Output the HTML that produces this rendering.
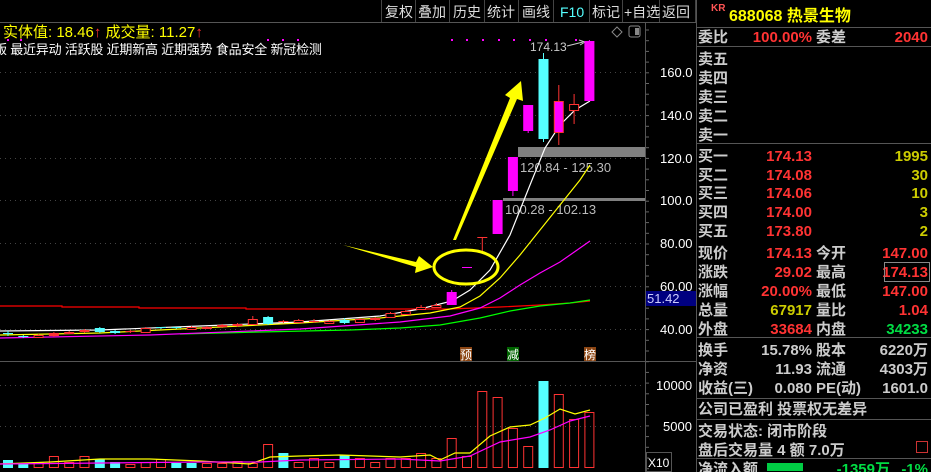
<!DOCTYPE html>
<html><head><meta charset="utf-8">
<style>
body{margin:0;background:#000;width:931px;height:472px;overflow:hidden;font-family:"Liberation Sans","Noto Sans CJK SC",sans-serif;}
svg{display:block}
text{font-family:"Liberation Sans","Noto Sans CJK SC",sans-serif;}
</style></head>
<body>
<svg id="s" width="931" height="472" xmlns="http://www.w3.org/2000/svg">
<rect width="931" height="472" fill="#000"/>
<line x1="0" y1="22.5" x2="697" y2="22.5" stroke="#555"/>
<g stroke="#444">
<line x1="381.5" y1="0" x2="381.5" y2="22"/><line x1="415.5" y1="0" x2="415.5" y2="22"/><line x1="449.5" y1="0" x2="449.5" y2="22"/><line x1="484.5" y1="0" x2="484.5" y2="22"/><line x1="518.5" y1="0" x2="518.5" y2="22"/><line x1="553.5" y1="0" x2="553.5" y2="22"/><line x1="589.5" y1="0" x2="589.5" y2="22"/><line x1="622.5" y1="0" x2="622.5" y2="22"/><line x1="659.5" y1="0" x2="659.5" y2="22"/><line x1="695.5" y1="0" x2="695.5" y2="22"/>
</g>
<g font-size="14" fill="#ddd">
<text x="385" y="17">复权</text><text x="418" y="17">叠加</text><text x="453" y="17">历史</text><text x="487" y="17">统计</text><text x="522" y="17">画线</text><text x="560" y="17" fill="#5ff">F10</text><text x="592" y="17">标记</text><text x="624" y="17">+自选</text><text x="662" y="17">返回</text>
</g>
<text x="3" y="37" font-size="15" fill="#ff0">实体值: 18.46<tspan fill="#f33">↑</tspan> 成交量: 11.27<tspan fill="#f33">↑</tspan></text>
<text x="-6" y="54" font-size="13" letter-spacing="-0.2" fill="#fff">版 最近异动 活跃股 近期新高 近期强势 食品安全 新冠检测</text>
<g fill="#f0f" id="dots"></g>
<path d="M617 27 L622 32 L617 37 L612 32Z" fill="none" stroke="#888"/>
<rect x="629" y="26" width="11" height="11" rx="2" fill="none" stroke="#888"/><rect x="635" y="28" width="4" height="7" fill="#888"/>
<g stroke="#444" stroke-dasharray="1,4">
<line x1="0" y1="72.5" x2="645" y2="72.5"/><line x1="0" y1="115.5" x2="645" y2="115.5"/><line x1="0" y1="158.5" x2="645" y2="158.5"/><line x1="0" y1="200.5" x2="645" y2="200.5"/><line x1="0" y1="243.5" x2="645" y2="243.5"/><line x1="0" y1="286.5" x2="645" y2="286.5"/><line x1="0" y1="329.5" x2="645" y2="329.5"/>
<line x1="0" y1="385.5" x2="645" y2="385.5"/><line x1="0" y1="426.5" x2="645" y2="426.5"/>
</g>
<line x1="0" y1="361.5" x2="697" y2="361.5" stroke="#555"/>
<line x1="645.5" y1="22" x2="645.5" y2="472" stroke="#555"/>
<line x1="696.5" y1="0" x2="696.5" y2="472" stroke="#555"/>
<g stroke="#666" id="ticks"></g>
<g font-size="13" fill="#fff">
<text x="660" y="77">160.0</text><text x="660" y="120">140.0</text><text x="660" y="163">120.0</text><text x="660" y="205">100.0</text><text x="660" y="248">80.00</text><text x="660" y="291">60.00</text><text x="660" y="334">40.00</text>
<text x="656" y="390">10000</text><text x="663" y="431">5000</text>
</g>
<rect x="646" y="291" width="50" height="15" fill="#000080"/>
<text x="647" y="303" font-size="13" fill="#ccf">51.42</text>
<rect x="646.5" y="452.5" width="25" height="19" fill="none" stroke="#555"/>
<text x="648" y="467" font-size="12" fill="#fff">X10</text>
<rect x="518" y="147" width="127" height="10" fill="#808080"/>
<rect x="503" y="198" width="142" height="3" fill="#808080"/>
<text x="520" y="172" font-size="13" fill="#bbb">120.84 - 125.30</text>
<text x="505" y="214" font-size="13" fill="#bbb">100.28 - 102.13</text>
<text x="530" y="51" font-size="12" fill="#ccc">174.13</text>
<path d="M567 46 L583 42" stroke="#ccc" fill="none"/><path d="M579 40 L585 42 L580 45" stroke="#ccc" fill="none"/>
<polyline fill="none" stroke="#f00" stroke-width="1.2" points="0,306 62,306 62,307 139,307 139,308 246,308 246,309 450,309 500,307 540,305 570,303 590,301"/>
<polyline fill="none" stroke="#0f0" stroke-width="1.2" points="180,334 260,332 350,330 400,328 440,325 480,318 510,311 540,306 570,303 590,300"/>
<polyline fill="none" stroke="#f0f" stroke-width="1.2" points="0,338 150,335 300,329 400,322 450,316 480,308 500,298 520,285 540,273 560,262 580,248 590,241"/>
<polyline fill="none" stroke="#ff0" stroke-width="1.2" points="0,335 100,333 200,328 300,323 380,318 430,313 460,307 480,296 500,278 520,255 540,230 560,205 580,180 590,165"/>
<polyline fill="none" stroke="#fff" stroke-width="1.2" points="0,331 100,330 200,326 300,322 380,316 420,309 452,301 470,290 490,270 510,235 530,185 545,148 560,125 575,110 590,101"/>
<g id="cand"></g>
<g id="vol"></g>
<polyline fill="none" stroke="#ff0" stroke-width="1.2" points="0,464 50,462 100,459 150,459 200,461 250,464 270,457 300,456 340,455 400,457 430,455 440,460 455,453 470,453 490,436 510,427 530,425 545,418 560,409 575,414 590,410"/>
<polyline fill="none" stroke="#f0f" stroke-width="1.2" points="0,464 200,462 260,462 300,460 400,459 440,461 470,456 500,442 530,437 550,430 570,421 590,416"/>
<rect x="460" y="347" width="12" height="14" fill="#8b4513"/><text x="460" y="359" font-size="12" fill="#fff">预</text>
<rect x="507" y="347" width="12" height="14" fill="#006400"/><text x="507" y="359" font-size="12" fill="#fff">减</text>
<rect x="584" y="347" width="12" height="14" fill="#8b4513"/><text x="584" y="359" font-size="12" fill="#fff">榜</text>
<ellipse cx="466" cy="267" rx="32" ry="17" fill="none" stroke="#ff0" stroke-width="3"/>
<polygon points="343,245 416,262 419,256 433,267 415,273 416,267" fill="#ff0"/>
<polygon points="453,240 510,98 505,95 521,81 523,101 517,99 456,240" fill="#ff0"/>
<g font-size="15" font-weight="bold">
<text x="711" y="11" font-size="10" fill="#f55">KR</text>
<text x="729" y="21" font-size="16" fill="#ff0">688068 热景生物</text>
<line x1="697" y1="27.5" x2="931" y2="27.5" stroke="#555"/>
<text x="698" y="42" fill="#ccc">委比</text><text x="812" y="42" fill="#f33" text-anchor="end">100.00%</text><text x="816" y="42" fill="#ccc">委差</text><text x="928" y="42" fill="#f33" text-anchor="end">2040</text>
<line x1="697" y1="46.5" x2="931" y2="46.5" stroke="#555"/>
<g fill="#ccc"><text x="698" y="64">卖五</text><text x="698" y="83">卖四</text><text x="698" y="102">卖三</text><text x="698" y="121">卖二</text><text x="698" y="140">卖一</text></g>
<line x1="697" y1="143.5" x2="931" y2="143.5" stroke="#555"/>
<g fill="#ccc"><text x="698" y="161">买一</text><text x="698" y="180">买二</text><text x="698" y="198">买三</text><text x="698" y="217">买四</text><text x="698" y="236">买五</text></g>
<g fill="#f33" text-anchor="end"><text x="812" y="161">174.13</text><text x="812" y="180">174.08</text><text x="812" y="198">174.06</text><text x="812" y="217">174.00</text><text x="812" y="236">173.80</text></g>
<g fill="#cc0" text-anchor="end"><text x="928" y="161">1995</text><text x="928" y="180">30</text><text x="928" y="198">10</text><text x="928" y="217">3</text><text x="928" y="236">2</text></g>
<g fill="#ccc"><text x="698" y="258">现价</text><text x="698" y="277">涨跌</text><text x="698" y="296">涨幅</text><text x="698" y="315">总量</text><text x="698" y="334">外盘</text>
<text x="816" y="258">今开</text><text x="816" y="277">最高</text><text x="816" y="296">最低</text><text x="816" y="315">量比</text><text x="816" y="334">内盘</text></g>
<g text-anchor="end"><text x="812" y="258" fill="#f33">174.13</text><text x="812" y="277" fill="#f33">29.02</text><text x="812" y="296" fill="#f33">20.00%</text><text x="812" y="315" fill="#cc0">67917</text><text x="812" y="334" fill="#f33">33684</text>
<text x="928" y="258" fill="#f33">147.00</text><text x="928" y="277" fill="#f33">174.13</text><text x="928" y="296" fill="#f33">147.00</text><text x="928" y="315" fill="#f33">1.04</text><text x="928" y="334" fill="#0d4">34233</text></g>
<rect x="884.5" y="262.5" width="45" height="19" fill="none" stroke="#888"/>
<line x1="697" y1="337.5" x2="931" y2="337.5" stroke="#555"/>
<g fill="#ccc"><text x="698" y="355">换手</text><text x="698" y="374">净资</text><text x="698" y="393">收益(三)</text><text x="816" y="355">股本</text><text x="816" y="374">流通</text><text x="816" y="393">PE(动)</text></g>
<g fill="#ccc" text-anchor="end"><text x="812" y="355">15.78%</text><text x="812" y="374">11.93</text><text x="812" y="393">0.080</text><text x="928" y="355">6220万</text><text x="928" y="374">4303万</text><text x="928" y="393">1601.0</text></g>
<line x1="697" y1="398.5" x2="931" y2="398.5" stroke="#555"/>
<text x="698" y="414" fill="#ccc">公司已盈利 投票权无差异</text>
<line x1="697" y1="419.5" x2="931" y2="419.5" stroke="#555"/>
<text x="698" y="436" fill="#ccc">交易状态: 闭市阶段</text>
<text x="698" y="455" fill="#ccc">盘后交易量 4 额 7.0万</text>
<rect x="916.5" y="441.5" width="11" height="11" fill="none" stroke="#c33"/>
<line x1="697" y1="458.5" x2="931" y2="458.5" stroke="#555"/>
<text x="698" y="474" fill="#ccc">净流入额</text>
<rect x="767" y="463" width="36" height="8" fill="#0c4"/>
<text x="890" y="474" fill="#0d4" text-anchor="end">-1359万</text><text x="928" y="474" fill="#0d4" text-anchor="end">-1%</text>
</g>
</svg>
<script>
var NS="http://www.w3.org/2000/svg";
function el(p,t,a){var e=document.createElementNS(NS,t);for(var k in a)e.setAttribute(k,a[k]);document.getElementById(p).appendChild(e);}
[8,21,268,283,298,452,467,483,499,514,530,546,576].forEach(function(x){el("dots","rect",{x:x-1,y:39,width:2,height:2});});
for(var y=30;y<470;y+=10.7){el("ticks","line",{x1:646,y1:y,x2:649,y2:y});}
var C=[["c",333,334,331,336],["c",336,337,335,338],["r",335,337,334,338],["f",333,336,332,337],["r",332,333,331,334],["f",330,332,329,333],["c",328,332,327,333],["c",331,333,330,334],["f",331,332,330,333],["r",328,332,327,333],["c",327,328,327,329],["c",327,328,327,329],["r",327,329,326,330],["r",327,328,326,329],["f",325,327,324,328],["f",324,326,323,327],["r",319,324,316,325],["c",317,324,316,325],["f",321,322,320,323],["f",321,322,319,323],["r",321,323,320,324],["c",320,323,318,324],["r",319,322,318,323],["f",318,320,317,321],["r",313,317,312,318],["r",311,314,310,315],["r",307,309,305,310],["r",305,307,303,308],["m",292,305,290,305],["m",267,268,267,268],["t",237,238,237,251],["m",200,234,200,234],["m",157,191,157,196],["m",105,131,105,133],["c",59,139,53,142],["mr",101,132,85,145],["r",104,110,94,124],["m",41,101,40,101]];
C.splice(19,0,["r",320,322,319,323]);
C.forEach(function(c,i){var x=8+15.3*i,t=c[0],w=10;
 var col=t=="c"?"#5ff":(t=="m"?"#f0f":"#f33");
 el("cand","line",{x1:x,y1:c[3],x2:x,y2:c[4],stroke:col});
 if(t=="t"){el("cand","line",{x1:x-5,y1:c[1]+0.5,x2:x+5,y2:c[1]+0.5,stroke:"#f33"});return;}
 var h=Math.max(1,c[2]-c[1]);
 if(t=="r")el("cand","rect",{x:x-w/2+0.5,y:c[1]+0.5,width:w-1,height:h,fill:"#000",stroke:"#f33"});
 else if(t=="mr")el("cand","rect",{x:x-w/2+0.5,y:c[1]+0.5,width:w-1,height:h,fill:"#f0f",stroke:"#f33"});
 else el("cand","rect",{x:x-w/2,y:c[1],width:w,height:h,fill:col});
});
var V=[["c",460],["c",464],["r",462],["r",456],["r",462],["r",456],["c",459],["c",462],["r",464],["r",462],["r",459],["c",463],["c",463],["r",463],["r",463],["r",461],["r",463],["r",444],["c",453],["r",462],["r",458],["r",462],["c",455],["r",458],["r",462],["r",458],["r",458],["r",453],["r",458],["r",438],["r",456],["r",391],["r",397],["r",428],["r",446],["c",381],["r",394],["r",419],["r",412]];
V.forEach(function(v,i){var x=8+15.3*i;
 if(v[0]=="c")el("vol","rect",{x:x-5,y:v[1],width:10,height:468-v[1],fill:"#5ff"});
 else el("vol","rect",{x:x-4.5,y:v[1]+0.5,width:9,height:468-v[1]-1,fill:"none",stroke:"#f33"});
});
</script>
</body></html>
